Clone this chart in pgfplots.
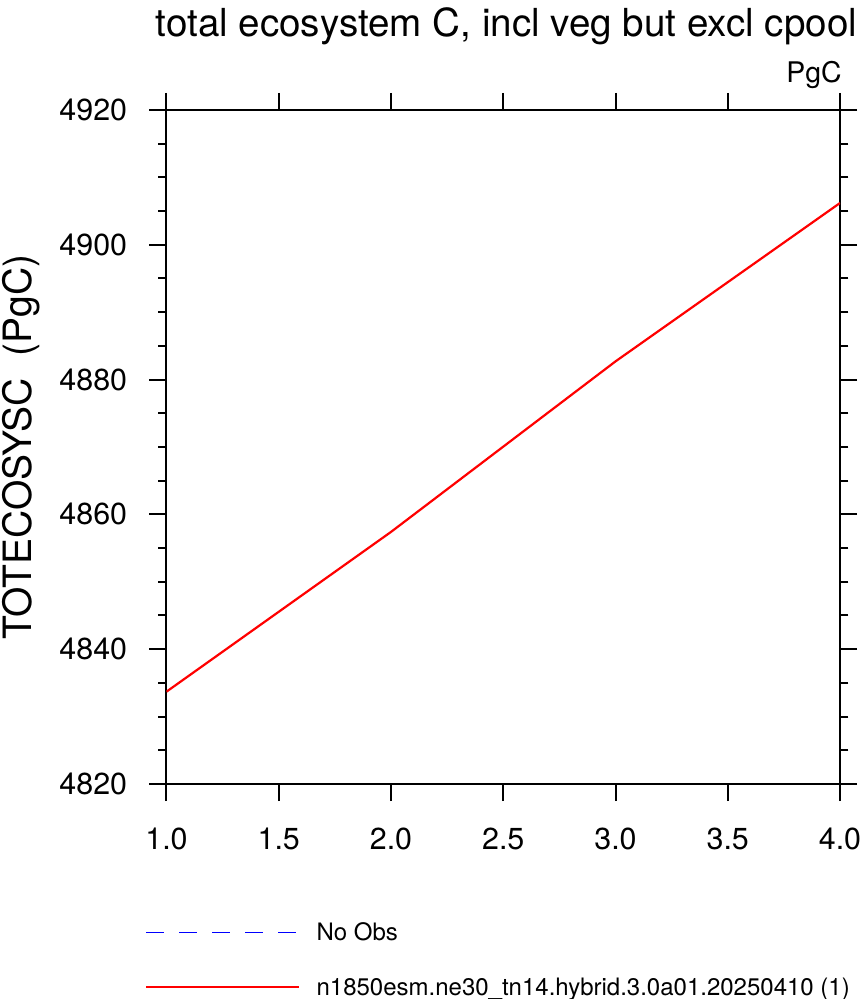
\documentclass[border=0pt]{standalone}
\usepackage{fontspec}
\setmainfont{TeX Gyre Heros}
\usepackage{pgfplots}
\pgfplotsset{compat=1.18}
\begin{document}
\begin{tikzpicture}
\useasboundingbox (-83.25pt,-107.5pt) rectangle (348.25pt,392pt);
\begin{axis}[
  at={(0pt,0pt)}, anchor=south west,
  scale only axis,
  width=336.75pt, height=337pt,
  xmin=1, xmax=4, ymin=4820, ymax=4920,
  xtick={1,1.5,2,2.5,3,3.5,4},
  ytick={4820,4840,4860,4880,4900,4920},
  minor y tick num=3,
  tick align=outside,
  xtick pos=both, ytick pos=both,
  major tick length=8.5pt, minor tick length=4.2pt,
  every tick/.style={black, line width=1pt},
  axis line style={line width=1pt},
  /pgf/number format/assume math mode=true,
  xticklabel style={/pgf/number format/.cd, fixed, fixed zerofill, precision=1, /tikz/.cd, yshift=-13.5pt},
  yticklabel style={/pgf/number format/1000 sep={}, xshift=-11pt},
  tick label style={font=\fontsize{15.2}{18}\selectfont, inner sep=0pt},
  title={total ecosystem C, incl veg but excl cpool},
  title style={at={(axis description cs:0.5,1)}, anchor=base, yshift=30.5pt, xshift=1.6pt,
    inner sep=0pt, font=\fontsize{19.3}{23}\selectfont},
  ylabel={TOTECOSYSC\ \ (PgC)},
  ylabel style={at={(axis description cs:-0.216,0.5)}, anchor=center, inner sep=0pt,
    font=\fontsize{19.5}{23}\selectfont},
  legend image code/.code={\draw[#1] (0pt,0pt) -- (76.5pt,0pt);},
  legend cell align=left,
  legend style={at={(axis description cs:-0.0319,-0.2604)}, anchor=west,
    draw=none, fill=none, inner xsep=0pt, inner ysep=0pt,
    row sep=15.5pt, column sep=8.5pt,
    nodes={inner sep=0pt, text height=10pt, text depth=2pt, font=\fontsize{12}{14}\selectfont}},
  after end axis/.code={
    \node[anchor=base east, inner sep=0pt, font=\fontsize{14.2}{16}\selectfont]
      at (rel axis cs:1,1) [yshift=13.5pt, xshift=1pt] {PgC};
  },
]
\addlegendimage{blue, line width=0.5pt, dash pattern=on 9pt off 7.5pt}
\addlegendentry{No Obs}
\addplot[red, line width=1.1pt, forget plot] coordinates {
  (1,4833.7) (2,4857.4) (3,4882.7) (4,4906.2)
};
\addlegendimage{red, line width=0.6pt}
\addlegendentry{n1850esm.ne30\_tn14.hybrid.3.0a01.20250410 (1)}
\end{axis}
\end{tikzpicture}
\end{document}
